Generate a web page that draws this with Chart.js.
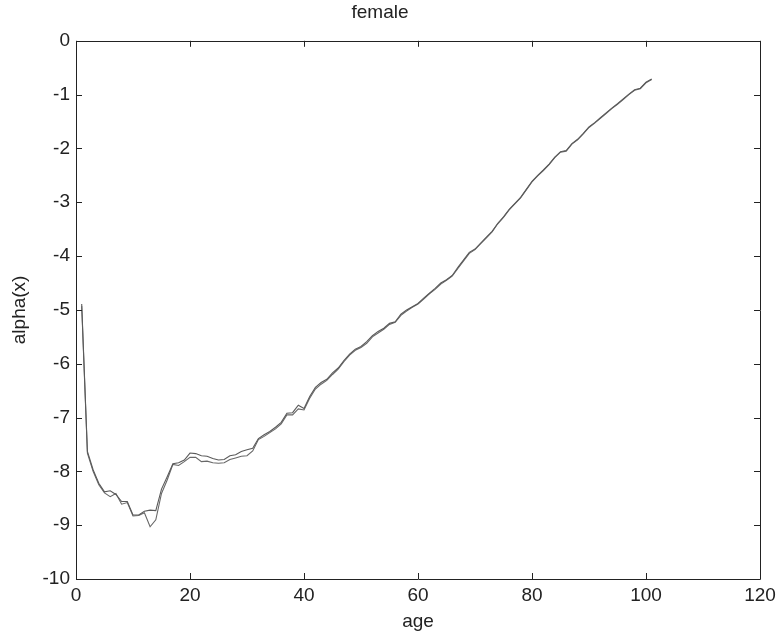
<!DOCTYPE html>
<html>
<head>
<meta charset="utf-8">
<script src="https://cdn.jsdelivr.net/npm/chart.js@4/dist/chart.umd.min.js"></script>
<style>
html,body{margin:0;padding:0;background:#fff;}
#wrap{width:781px;height:636px;position:relative;}
</style>
</head>
<body>
<div id="wrap"><canvas id="c" width="781" height="636"></canvas></div>
<script>
const chartTitle = 'female';
const xLabel = 'age';
const yLabel = 'alpha(x)';
const xTicks = [0, 20, 40, 60, 80, 100, 120];
const yTicks = [0, -1, -2, -3, -4, -5, -6, -7, -8, -9, -10];
const ages = [];
for (let a = 1; a <= 101; a++) ages.push(a);

const seriesA = [
-4.89,-7.63,-7.97,-8.22,-8.38,-8.36,-8.43,-8.56,-8.56,-8.81,
-8.81,-8.74,-8.72,-8.73,-8.33,-8.10,-7.86,-7.84,-7.79,-7.66,
-7.67,-7.71,-7.72,-7.76,-7.79,-7.78,-7.71,-7.69,-7.63,-7.60,
-7.57,-7.39,-7.32,-7.26,-7.18,-7.09,-6.92,-6.91,-6.77,-6.83,
-6.61,-6.44,-6.35,-6.29,-6.17,-6.08,-5.94,-5.82,-5.73,-5.68,
-5.59,-5.48,-5.40,-5.34,-5.25,-5.22,-5.08,-5.00,-4.94,-4.88,
-4.78,-4.69,-4.60,-4.50,-4.44,-4.36,-4.21,-4.07,-3.93,-3.87,
-3.76,-3.65,-3.54,-3.39,-3.27,-3.13,-3.02,-2.91,-2.76,-2.61,
-2.50,-2.40,-2.29,-2.16,-2.06,-2.04,-1.91,-1.83,-1.72,-1.60,
-1.52,-1.43,-1.34,-1.25,-1.17,-1.08,-0.99,-0.91,-0.88,-0.77,
-0.71];

const seriesB = [
-4.93,-7.66,-8.00,-8.25,-8.40,-8.47,-8.41,-8.61,-8.58,-8.83,
-8.82,-8.77,-9.03,-8.90,-8.41,-8.16,-7.87,-7.89,-7.82,-7.74,
-7.74,-7.82,-7.81,-7.84,-7.85,-7.84,-7.78,-7.75,-7.72,-7.71,
-7.62,-7.41,-7.35,-7.28,-7.21,-7.12,-6.95,-6.95,-6.84,-6.86,
-6.64,-6.47,-6.38,-6.31,-6.20,-6.10,-5.96,-5.84,-5.75,-5.70,
-5.62,-5.50,-5.43,-5.36,-5.27,-5.23,-5.10,-5.02,-4.95,-4.89,
-4.80,-4.70,-4.62,-4.52,-4.45,-4.37,-4.23,-4.09,-3.95,-3.88,
-3.77,-3.66,-3.55,-3.40,-3.28,-3.14,-3.03,-2.92,-2.77,-2.62,
-2.51,-2.41,-2.30,-2.17,-2.07,-2.05,-1.92,-1.84,-1.73,-1.61,
-1.53,-1.44,-1.35,-1.26,-1.18,-1.09,-1.00,-0.92,-0.89,-0.78,
-0.72];

const FONT = 'Liberation Sans, Arial, Helvetica, sans-serif';

const boxPlugin = {
  id: 'boxPlugin',
  afterDatasetsDraw(chart) {
    const {ctx, chartArea: ca, scales} = chart;
    const tl = 6;
    ctx.save();
    ctx.strokeStyle = '#222';
    ctx.lineWidth = 1;
    ctx.beginPath();
    ctx.rect(Math.round(ca.left) + 0.5, Math.round(ca.top) + 0.5,
             Math.round(ca.right - ca.left), Math.round(ca.bottom - ca.top));
    ctx.stroke();
    ctx.beginPath();
    xTicks.forEach(v => {
      const px = Math.round(scales.x.getPixelForValue(v)) + 0.5;
      ctx.moveTo(px, ca.bottom); ctx.lineTo(px, ca.bottom - tl);
      ctx.moveTo(px, ca.top); ctx.lineTo(px, ca.top + tl);
    });
    yTicks.forEach(v => {
      const py = Math.round(scales.y.getPixelForValue(v)) + 0.5;
      ctx.moveTo(ca.left, py); ctx.lineTo(ca.left + tl, py);
      ctx.moveTo(ca.right, py); ctx.lineTo(ca.right - tl, py);
    });
    ctx.stroke();
    ctx.restore();
  }
};

new Chart(document.getElementById('c'), {
  type: 'line',
  data: {
    datasets: [
      { data: ages.map((a, i) => ({x: a, y: seriesA[i]})), borderColor: '#5a5a5a', borderWidth: 1.1, pointRadius: 0, tension: 0, fill: false },
      { data: ages.map((a, i) => ({x: a, y: seriesB[i]})), borderColor: '#686868', borderWidth: 1.1, pointRadius: 0, tension: 0, fill: false }
    ]
  },
  options: {
    responsive: false,
    animation: false,
    layout: { padding: { left: 0, right: 21, top: 0, bottom: 0 } },
    plugins: {
      legend: { display: false },
      tooltip: { enabled: false },
      title: {
        display: true, text: chartTitle, color: '#222',
        font: { family: FONT, size: 19, weight: 'normal' },
        padding: { top: 1, bottom: 17 }
      }
    },
    scales: {
      x: {
        type: 'linear', min: 0, max: 120,
        afterBuildTicks(s) { s.ticks = xTicks.map(v => ({value: v})); },
        afterFit(s) { s.height = 57; },
        grid: { display: false, drawTicks: false },
        border: { display: false },
        ticks: { color: '#222', font: { family: FONT, size: 19 }, padding: 5, maxRotation: 0, autoSkip: false },
        title: { display: true, text: xLabel, color: '#222', font: { family: FONT, size: 19 }, padding: { top: 0, bottom: 3 } }
      },
      y: {
        type: 'linear', min: -10, max: 0,
        afterBuildTicks(s) { s.ticks = yTicks.slice().reverse().map(v => ({value: v})); },
        afterFit(s) { s.width = 76; },
        grid: { display: false, drawTicks: false },
        border: { display: false },
        ticks: { color: '#222', font: { family: FONT, size: 19 }, padding: 6, autoSkip: false },
        title: { display: true, text: yLabel, color: '#222', font: { family: FONT, size: 19 }, padding: { top: 8, bottom: 0 } }
      }
    }
  },
  plugins: [boxPlugin]
});
</script>
</body>
</html>
